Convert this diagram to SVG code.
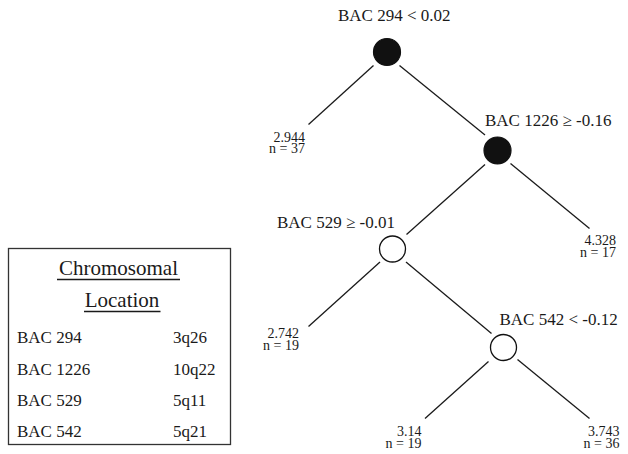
<svg xmlns="http://www.w3.org/2000/svg" width="628" height="454" viewBox="0 0 628 454">
  <style>
    text { font-family: "Liberation Serif", "Times New Roman", serif; fill: #1a1a1a; }
    .split { font-size: 17px; }
    .leaf { font-size: 14px; text-anchor: end; }
    .head { font-size: 21px; text-anchor: middle; }
    .row { font-size: 17px; }
    .edge { stroke: #1a1a1a; stroke-width: 1.3; fill: none; }
    .filled { fill: #111; stroke: #111; stroke-width: 1.2; }
    .open { fill: #fff; stroke: #111; stroke-width: 1.3; }
  </style>

  <rect width="628" height="454" fill="#fff"/>

  <!-- tree branches -->
  <g id="connectors">
    <line class="edge" x1="373.5" y1="65.5" x2="308.5" y2="124.5"/>
    <line class="edge" x1="399.5" y1="65.5" x2="485" y2="135"/>
    <line class="edge" x1="485" y1="164.5" x2="406.5" y2="234.5"/>
    <line class="edge" x1="510.5" y1="163.5" x2="589.5" y2="228.5"/>
    <line class="edge" x1="380" y1="262" x2="308.5" y2="326.5"/>
    <line class="edge" x1="406" y1="262" x2="491.5" y2="333.5"/>
    <line class="edge" x1="488.5" y1="361.5" x2="425" y2="418.5"/>
    <line class="edge" x1="517.5" y1="359.5" x2="589.5" y2="418.5"/>
  </g>

  <!-- split nodes -->
  <g id="node-bac294">
    <circle class="filled" cx="387" cy="52" r="13.5"/>
    <text class="split" x="338" y="20.5">BAC 294 &lt; 0.02</text>
  </g>
  <g id="node-bac1226">
    <circle class="filled" cx="497.5" cy="150.5" r="13.5"/>
    <text class="split" x="485" y="126">BAC 1226 ≥ -0.16</text>
  </g>
  <g id="node-bac529">
    <circle class="open" cx="392.5" cy="249" r="13"/>
    <text class="split" x="277" y="227.5">BAC 529 ≥ -0.01</text>
  </g>
  <g id="node-bac542">
    <circle class="open" cx="503.5" cy="347.5" r="13"/>
    <text class="split" x="499.5" y="325">BAC 542 &lt; -0.12</text>
  </g>

  <!-- terminal leaves: mean value over sample count -->
  <g id="leaf-1">
    <text class="leaf" x="305" y="141.5">2.944<tspan x="305" dy="11">n = 37</tspan></text>
  </g>
  <g id="leaf-2">
    <text class="leaf" x="616" y="245">4.328<tspan x="616" dy="11.5">n = 17</tspan></text>
  </g>
  <g id="leaf-3">
    <text class="leaf" x="299" y="337.5">2.742<tspan x="299" dy="12">n = 19</tspan></text>
  </g>
  <g id="leaf-4">
    <text class="leaf" x="421.5" y="436">3.14<tspan x="421.5" dy="11.5">n = 19</tspan></text>
  </g>
  <g id="leaf-5">
    <text class="leaf" x="619.5" y="436">3.743<tspan x="619.5" dy="11.5">n = 36</tspan></text>
  </g>

  <!-- chromosomal location legend -->
  <g id="legend">
    <rect x="8.5" y="248.5" width="222" height="196" fill="none" stroke="#333" stroke-width="1.3"/>
    <text class="head" x="118.5" y="275">Chromosomal</text>
    <line x1="57" y1="279.5" x2="180" y2="279.5" stroke="#1a1a1a" stroke-width="1.5"/>
    <text class="head" x="122" y="306.5">Location</text>
    <line x1="84" y1="311.5" x2="160.5" y2="311.5" stroke="#1a1a1a" stroke-width="1.5"/>
    <text class="row" x="17" y="343">BAC 294</text>
    <text class="row" x="173" y="343">3q26</text>
    <text class="row" x="17" y="374.5">BAC 1226</text>
    <text class="row" x="173" y="374.5">10q22</text>
    <text class="row" x="17" y="406">BAC 529</text>
    <text class="row" x="173" y="406">5q11</text>
    <text class="row" x="17" y="437">BAC 542</text>
    <text class="row" x="173" y="437">5q21</text>
  </g>
</svg>
